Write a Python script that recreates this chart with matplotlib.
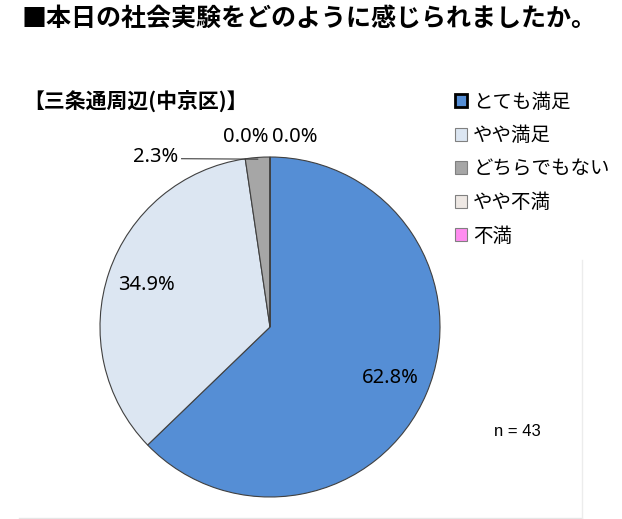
#!/usr/bin/env python3

import numpy as np
import matplotlib
matplotlib.use('Agg')
import matplotlib.pyplot as plt
from matplotlib.patches import Patch

plt.rcParams['font.family'] = ['Noto Sans CJK JP', 'DejaVu Sans']

# data (n = 43)
categories = ['とても満足', 'やや満足', 'どちらでもない', 'やや不満', '不満']
counts = [27, 15, 1, 0, 0]
shares = [62.8, 34.9, 2.3, 0.0, 0.0]
colors = ['#558ed5', '#dce6f2', '#a6a6a6', '#eee8e4', '#ff8cf0']
title = '■本日の社会実験をどのように感じられましたか。'
subtitle = '【三条通周辺(中京区)】'
n_total = 43

W, H = 622, 519
fig = plt.figure(figsize=(W / 100, H / 100), dpi=100)

# pie area: centre ~ (270, 327) px, radius ~170 px
cx, cy, r = 270, 327, 170
ax = fig.add_axes([(cx - r) / W, (H - cy - r) / H, 2 * r / W, 2 * r / H])
wedges, _ = ax.pie(counts, colors=colors, startangle=90, counterclock=False,
                   radius=1.0,
                   wedgeprops=dict(edgecolor='#404040', linewidth=0.8))
ax.set_xlim(-1, 1)
ax.set_ylim(-1, 1)
ax.set_aspect('equal')
ax.axis('off')

# percentage labels
fs = 14.5
for i, (w, s) in enumerate(zip(wedges, shares)):
    mid = np.deg2rad((w.theta1 + w.theta2) / 2)
    txt = f'{s:.1f}%'
    if s > 10:
        d = 0.77
        ax.text(d * np.cos(mid), d * np.sin(mid), txt, ha='center', va='center',
                fontsize=fs, family='Noto Sans', clip_on=False)
    elif s > 0:
        # small slice: label to the upper left with leader line
        ex, ey = 0.99 * np.cos(mid), 0.99 * np.sin(mid)
        lx, ly = -0.52, 0.99
        ax.plot([lx, ex], [ly, ey], color='#404040', lw=0.8, clip_on=False)
        ax.text(lx - 0.02, ly + 0.01, txt, ha='right', va='center', fontsize=fs,
                family='Noto Sans', clip_on=False)
    else:
        off = -0.14 if i == 3 else 0.145
        ax.text(off, 1.12, txt, ha='center', va='center', fontsize=fs,
                family='Noto Sans', clip_on=False)

# titles
fig.text(22 / W, 1 - 19 / H, title, fontsize=18, fontweight='bold',
         ha='left', va='center')
fig.text(23 / W, 1 - 101 / H, subtitle, fontsize=15, fontweight='bold',
         ha='left', va='center')

# legend
handles = []
for i, (c, lab) in enumerate(zip(colors, categories)):
    if i == 0:
        handles.append(Patch(facecolor=c, edgecolor='black', linewidth=2, label=lab))
    else:
        handles.append(Patch(facecolor=c, edgecolor='#808080', linewidth=0.8, label=lab))
fig.legend(handles=handles, loc='upper left', bbox_to_anchor=(447 / W, 1 - 84 / H),
           frameon=False, fontsize=14, handlelength=0.65, handleheight=0.65,
           handletextpad=0.3, labelspacing=0.64, borderaxespad=0)

fig.text(517 / W, 1 - 432 / H, f'n = {n_total}', fontsize=12,
         family='Liberation Sans', ha='center', va='center')

# faint frame lines
fig.add_artist(plt.Line2D([19 / W, 582 / W], [1 - 517.5 / H, 1 - 517.5 / H],
                          color='#e6e6e6', lw=1))
fig.add_artist(plt.Line2D([582 / W, 582 / W], [1 - 517.5 / H, 1 - 260 / H],
                          color='#ececec', lw=1))

fig.savefig('out.png', dpi=100)
